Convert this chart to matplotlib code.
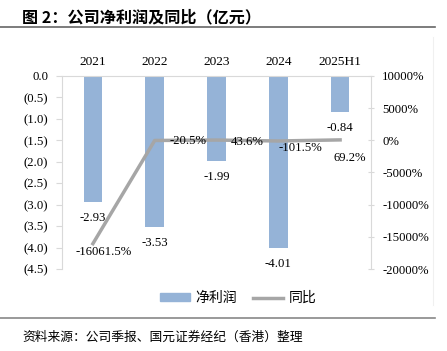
import matplotlib.pyplot as plt
from matplotlib.lines import Line2D
from matplotlib.patches import Patch

plt.rcParams['font.family'] = ['Liberation Serif', 'Noto Sans CJK SC']

years = ["2021", "2022", "2023", "2024", "2025H1"]
profit = [-2.93, -3.53, -1.99, -4.01, -0.84]
yoy = [-16061.5, -20.5, 43.6, -101.5, 69.2]
yoy_labels = ["-16061.5%", "-20.5%", "43.6%", "-101.5%", "69.2%"]
left_ticks = [0.0, -0.5, -1.0, -1.5, -2.0, -2.5, -3.0, -3.5, -4.0, -4.5]
right_ticks = [10000, 5000, 0, -5000, -10000, -15000, -20000]

W, H = 447, 351
fig = plt.figure(figsize=(W / 100, H / 100), dpi=100)


def px(x0, y0, x1, y1):
    return [x0 / W, 1 - y1 / H, (x1 - x0) / W, (y1 - y0) / H]


bar_c = "#95B3D7"
line_c = "#A6A6A6"
grid_c = "#D9D9D9"
fs = 9.2

ax = fig.add_axes(px(62, 76, 371, 269))
x = list(range(len(years)))
ax.bar(x, profit, width=0.3, color=bar_c, zorder=2)
ax.set_xlim(-0.5, len(years) - 0.5)
ax.set_ylim(-4.5, 0)
ax.set_yticks(left_ticks)
ax.set_yticklabels(["0.0" if v == 0 else "(%.1f)" % abs(v) for v in left_ticks], fontsize=fs)
ax.xaxis.tick_top()
ax.set_xticks(x)
ax.set_xticklabels(years, fontsize=9.6)
ax.tick_params(axis="x", length=0, pad=6)
ax.tick_params(axis="y", length=4, color=grid_c, pad=6)
for s in ["bottom", "right"]:
    ax.spines[s].set_visible(False)
for s in ["top", "left"]:
    ax.spines[s].set_color(grid_c)

for i, v in enumerate(profit):
    ax.annotate("%.2f" % v, (i, v), xytext=(0, -16), textcoords="offset pixels",
                ha="center", va="center", fontsize=fs)

ax2 = ax.twinx()
ax2.plot(x, yoy, color=line_c, lw=2.5, zorder=3)
ax2.set_ylim(-20000, 10000)
ax2.set_yticks(right_ticks)
ax2.set_yticklabels(["%d%%" % v for v in right_ticks], fontsize=fs)
ax2.tick_params(axis="y", length=4, color=grid_c, direction="inout", pad=6)
for s in ["top", "bottom", "left"]:
    ax2.spines[s].set_visible(False)
ax2.spines["right"].set_color(grid_c)

offs = [(11, -8), (33, -1), (31, -2), (22, -7), (10, -18)]
for i, v in enumerate(yoy):
    ax2.annotate(yoy_labels[i], (i, v), xytext=offs[i], textcoords="offset pixels",
                 ha="center", va="center", fontsize=fs)

handles = [Patch(color=bar_c), Line2D([], [], color=line_c, lw=2.5)]
fig.legend(handles, ["净利润", "同比"], loc="center", bbox_to_anchor=(238 / W, 1 - 298 / H),
           ncol=2, frameon=False, handlelength=2.2, handleheight=0.45,
           columnspacing=1.1, handletextpad=0.4,
           prop={"family": ["Noto Sans CJK SC"], "size": 10})

fig.text(22 / W, 1 - 17 / H, "图 2：公司净利润及同比（亿元）", fontsize=11.6, fontweight="bold",
         family=["Noto Sans CJK SC"], va="center", ha="left")
fig.add_artist(Line2D([0, 435 / W], [1 - 27 / H, 1 - 27 / H], color="#666666", lw=1.2))
fig.add_artist(Line2D([433 / W, 433 / W], [1 - 37 / H, 1 - 305 / H], color="#F0F0F0", lw=0.8))
fig.add_artist(Line2D([0, 435 / W], [1 - 318 / H, 1 - 318 / H], color="#888888", lw=1.2))
fig.text(22 / W, 1 - 337 / H, "资料来源：公司季报、国元证券经纪（香港）整理", fontsize=9.2,
         family=["Noto Sans CJK SC"], va="center", ha="left", style="italic")

fig.savefig("out.png", dpi=100)
